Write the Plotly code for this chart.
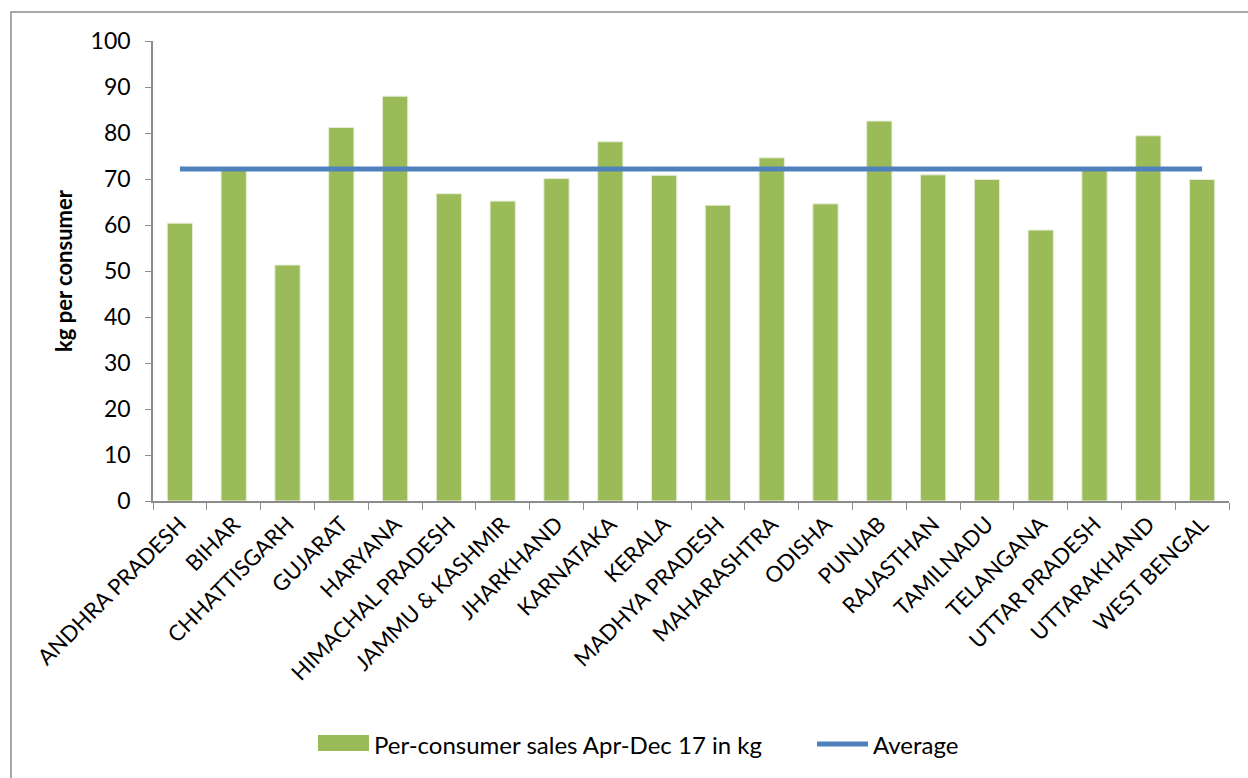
import plotly.graph_objects as go

states = ["ANDHRA PRADESH", "BIHAR", "CHHATTISGARH", "GUJARAT", "HARYANA",
          "HIMACHAL PRADESH", "JAMMU & KASHMIR", "JHARKHAND", "KARNATAKA", "KERALA",
          "MADHYA PRADESH", "MAHARASHTRA", "ODISHA", "PUNJAB", "RAJASTHAN",
          "TAMILNADU", "TELANGANA", "UTTAR PRADESH", "UTTARAKHAND", "WEST BENGAL"]
sales = [60.4, 72.1, 51.3, 81.2, 88.0, 66.8, 65.2, 70.1, 78.1, 70.8,
         64.3, 74.6, 64.6, 82.6, 70.9, 69.9, 58.9, 71.9, 79.4, 69.9]
average = [72.2] * len(states)
y_ticks = [0, 10, 20, 30, 40, 50, 60, 70, 80, 90, 100]
bar_name = "Per-consumer sales Apr-Dec 17 in kg"
line_name = "Average"

FONT = "Lato, Open Sans, sans-serif"
BAR_COLOR = "#9BBB59"
LINE_COLOR = "#4F81BD"
W, H = 1248, 778
L, R, T, B = 153, 1229, 41, 501

fig = go.Figure()
fig.add_trace(go.Bar(
    x=states, y=sales, name=bar_name,
    marker=dict(color=BAR_COLOR, line=dict(color="#E6EEDA", width=1)),
))
fig.add_trace(go.Scatter(
    x=states, y=average, name=line_name, mode="lines",
    line=dict(color=LINE_COLOR, width=5),
))

def px_x(p):
    return (p - L) / (R - L)

def px_y(p):
    return (B - p) / (B - T)

shapes = [
    dict(type="rect", xref="paper", yref="paper",
         x0=px_x(11), x1=px_x(1270), y0=px_y(800), y1=px_y(12),
         line=dict(color="#8C8C8C", width=1.5), fillcolor="rgba(0,0,0,0)", layer="below"),
    # legend swatches
    dict(type="rect", xref="paper", yref="paper",
         x0=px_x(318), x1=px_x(369), y0=px_y(751), y1=px_y(735),
         line=dict(width=0), fillcolor=BAR_COLOR),
    dict(type="line", xref="paper", yref="paper",
         x0=px_x(817), x1=px_x(868), y0=px_y(744), y1=px_y(744),
         line=dict(color=LINE_COLOR, width=5)),
]
annotations = [
    dict(text=bar_name, xref="paper", yref="paper", x=px_x(372), y=px_y(744),
         xanchor="left", yanchor="middle", showarrow=False, font=dict(size=24, family=FONT)),
    dict(text=line_name, xref="paper", yref="paper", x=px_x(871), y=px_y(744),
         xanchor="left", yanchor="middle", showarrow=False, font=dict(size=24, family=FONT)),
]

fig.update_layout(
    width=W, height=H,
    margin=dict(l=L, r=W - R, t=T, b=H - B),
    paper_bgcolor="white", plot_bgcolor="white",
    font=dict(family=FONT, color="black"),
    bargap=0.53,
    showlegend=False,
    shapes=shapes,
    annotations=annotations,
)
fig.update_xaxes(
    type="category", tickangle=-45, tickfont=dict(size=22, family=FONT),
    showline=True, linecolor="#8C8C8C", linewidth=1.5,
    ticks="outside", tickson="boundaries", ticklen=7, tickcolor="#8C8C8C",
    showgrid=False, range=[-0.5, len(states) - 0.5],
)
fig.update_yaxes(
    range=[0, 100], tickvals=y_ticks, tickfont=dict(size=23, family=FONT),
    ticklabelstandoff=10,
    showline=True, linecolor="#8C8C8C", linewidth=1.5,
    ticks="outside", ticklen=6, tickcolor="#8C8C8C", showgrid=False,
    zeroline=False,
    title=dict(text="<b>kg per consumer</b>", font=dict(size=22, family=FONT), standoff=12),
)
fig.write_html("out.html")
